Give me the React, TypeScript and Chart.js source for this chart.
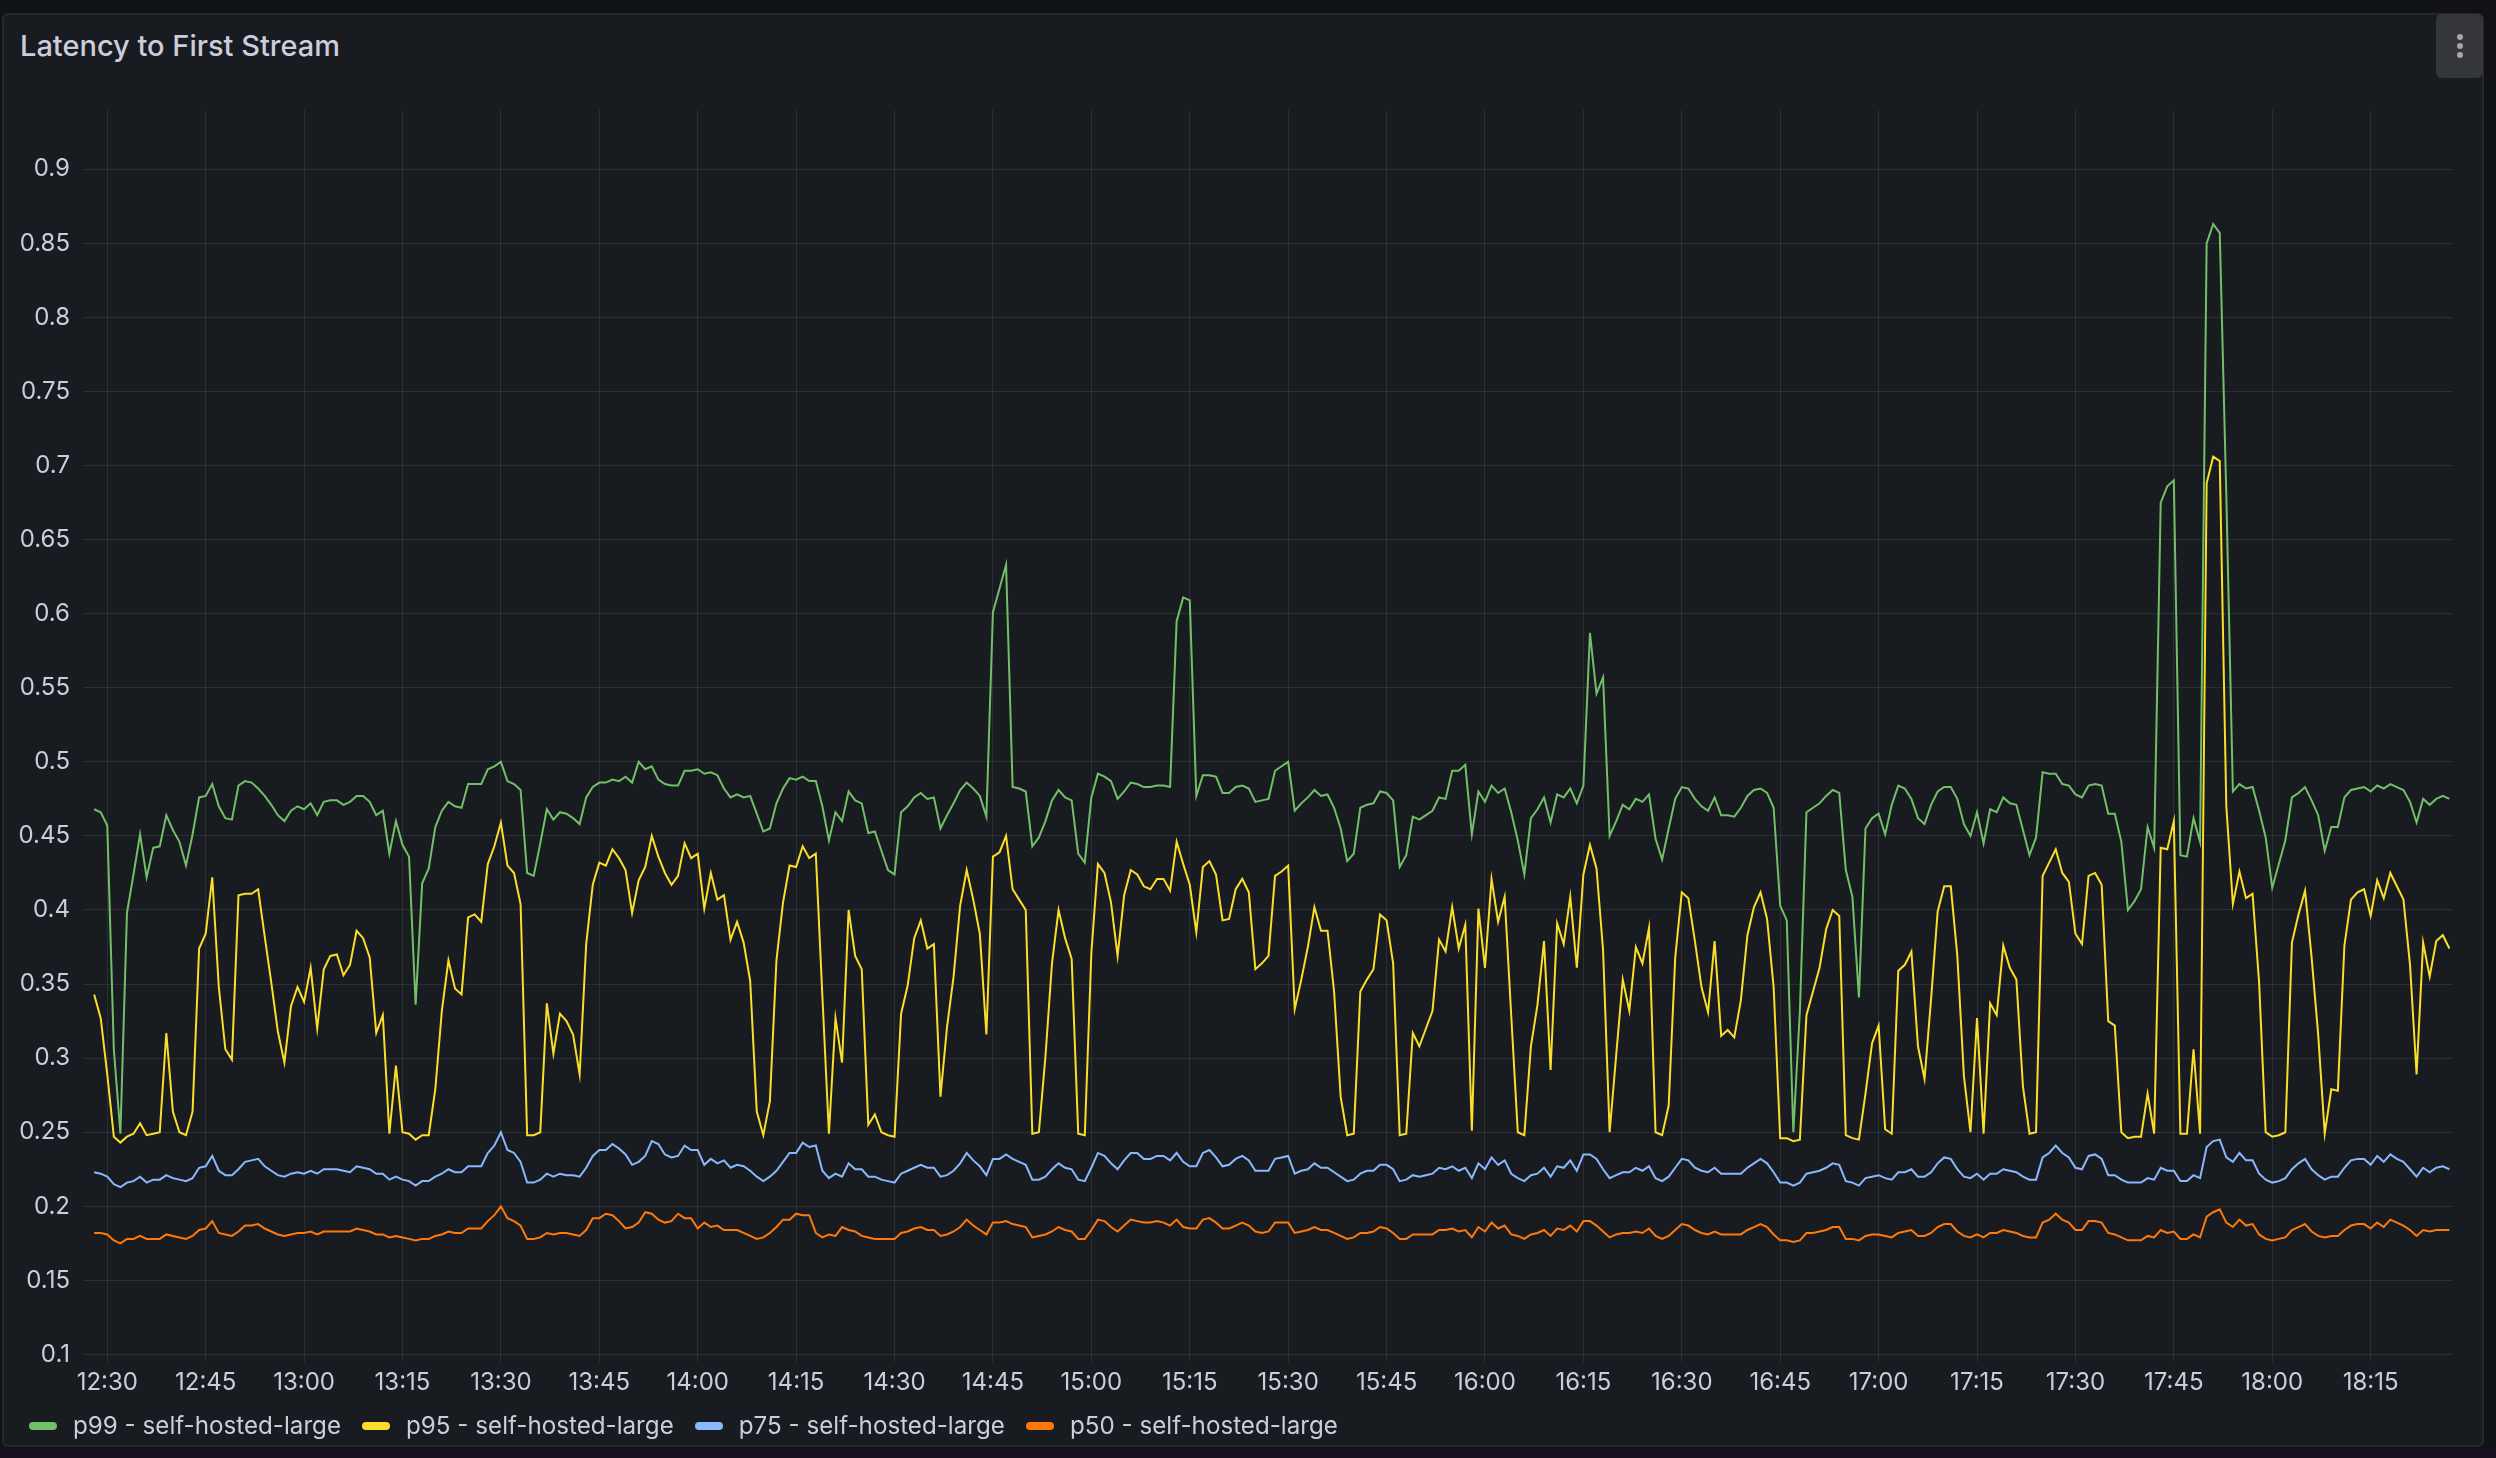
import React, { useEffect, useRef } from "react";
import { Chart, registerables } from "chart.js";

Chart.register(...registerables);

// first sample is 2 minutes before 12:30, one sample per minute
const START_MINUTE = -2;
const X_MIN = -3.7;
const X_MAX = 357.4;

const xTickMinutes = [0, 15, 30, 45, 60, 75, 90, 105, 120, 135, 150, 165, 180, 195, 210, 225, 240, 255, 270, 285, 300, 315, 330, 345];
const xTickLabels = ["12:30", "12:45", "13:00", "13:15", "13:30", "13:45", "14:00", "14:15", "14:30", "14:45", "15:00", "15:15", "15:30", "15:45", "16:00", "16:15", "16:30", "16:45", "17:00", "17:15", "17:30", "17:45", "18:00", "18:15"];

const yTickValues = [0.1, 0.15, 0.2, 0.25, 0.3, 0.35, 0.4, 0.45, 0.5, 0.55, 0.6, 0.65, 0.7, 0.75, 0.8, 0.85, 0.9];
const yTickLabels = ["0.1", "0.15", "0.2", "0.25", "0.3", "0.35", "0.4", "0.45", "0.5", "0.55", "0.6", "0.65", "0.7", "0.75", "0.8", "0.85", "0.9"];

const seriesNames = ["p99 - self-hosted-large", "p95 - self-hosted-large", "p75 - self-hosted-large", "p50 - self-hosted-large"];
const seriesColors = ["#73bf69", "#fade2a", "#8ab8ff", "#ff780a"];

const p99 = [
  0.468,0.466,0.457,0.306,0.249,0.398,0.424,0.451,0.422,0.442,
  0.443,0.464,0.454,0.446,0.430,0.451,0.476,0.477,0.485,0.470,
  0.462,0.461,0.484,0.487,0.486,0.482,0.477,0.471,0.464,0.460,
  0.467,0.470,0.468,0.472,0.464,0.473,0.474,0.474,0.471,0.473,
  0.477,0.477,0.473,0.464,0.467,0.438,0.460,0.444,0.436,0.336,
  0.418,0.428,0.456,0.467,0.473,0.470,0.469,0.485,0.485,0.485,
  0.495,0.497,0.500,0.487,0.485,0.481,0.425,0.423,0.445,0.468,
  0.461,0.466,0.465,0.462,0.458,0.476,0.483,0.486,0.486,0.488,
  0.487,0.490,0.486,0.500,0.495,0.497,0.488,0.485,0.484,0.484,
  0.494,0.494,0.495,0.492,0.493,0.491,0.482,0.476,0.478,0.476,
  0.477,0.465,0.453,0.455,0.472,0.482,0.489,0.488,0.490,0.487,
  0.487,0.470,0.447,0.466,0.460,0.480,0.474,0.472,0.452,0.453,
  0.440,0.427,0.424,0.466,0.470,0.476,0.479,0.475,0.476,0.455,
  0.464,0.472,0.481,0.486,0.482,0.477,0.463,0.601,0.617,0.633,
  0.483,0.482,0.480,0.443,0.449,0.460,0.474,0.481,0.476,0.474,
  0.438,0.432,0.476,0.492,0.490,0.487,0.475,0.480,0.486,0.485,
  0.483,0.483,0.484,0.484,0.483,0.595,0.611,0.609,0.477,0.491,
  0.491,0.490,0.479,0.479,0.483,0.484,0.482,0.473,0.474,0.475,
  0.494,0.497,0.500,0.467,0.472,0.476,0.481,0.477,0.478,0.469,
  0.455,0.433,0.438,0.469,0.471,0.472,0.480,0.479,0.474,0.429,
  0.437,0.463,0.461,0.464,0.467,0.476,0.475,0.494,0.494,0.498,
  0.451,0.480,0.473,0.484,0.479,0.482,0.466,0.447,0.424,0.462,
  0.468,0.476,0.459,0.478,0.476,0.482,0.472,0.484,0.587,0.546,
  0.557,0.450,0.460,0.471,0.468,0.475,0.473,0.478,0.448,0.434,
  0.455,0.475,0.483,0.482,0.475,0.470,0.467,0.476,0.464,0.464,
  0.463,0.469,0.477,0.481,0.482,0.479,0.469,0.403,0.393,0.250,
  0.332,0.466,0.469,0.472,0.477,0.481,0.479,0.427,0.409,0.341,
  0.455,0.462,0.465,0.451,0.471,0.484,0.482,0.475,0.462,0.458,
  0.471,0.480,0.483,0.483,0.475,0.458,0.450,0.466,0.445,0.468,
  0.466,0.476,0.472,0.471,0.454,0.437,0.449,0.493,0.492,0.492,
  0.485,0.484,0.478,0.476,0.484,0.485,0.484,0.465,0.465,0.446,
  0.400,0.406,0.414,0.456,0.442,0.675,0.686,0.690,0.437,0.436,
  0.462,0.446,0.850,0.863,0.857,0.680,0.480,0.485,0.482,0.483,
  0.467,0.449,0.415,0.431,0.447,0.476,0.479,0.483,0.474,0.464,
  0.440,0.456,0.456,0.476,0.481,0.482,0.483,0.480,0.484,0.482,
  0.485,0.483,0.481,0.473,0.459,0.475,0.471,0.475,0.477,0.475,
];

const p95 = [
  0.343,0.327,0.289,0.247,0.243,0.247,0.249,0.256,0.248,0.249,
  0.250,0.317,0.264,0.250,0.248,0.264,0.374,0.384,0.422,0.348,
  0.306,0.299,0.410,0.411,0.411,0.414,0.382,0.351,0.318,0.297,
  0.335,0.348,0.338,0.361,0.320,0.360,0.369,0.370,0.356,0.363,
  0.386,0.381,0.368,0.317,0.329,0.249,0.295,0.250,0.249,0.245,
  0.248,0.248,0.279,0.332,0.366,0.347,0.343,0.395,0.397,0.392,
  0.431,0.443,0.459,0.430,0.425,0.404,0.248,0.248,0.250,0.337,
  0.303,0.330,0.325,0.316,0.289,0.377,0.417,0.432,0.430,0.441,
  0.435,0.427,0.398,0.420,0.429,0.450,0.436,0.425,0.417,0.423,
  0.445,0.435,0.438,0.401,0.425,0.407,0.410,0.380,0.392,0.378,
  0.352,0.264,0.248,0.271,0.366,0.405,0.430,0.429,0.443,0.435,
  0.438,0.342,0.249,0.327,0.297,0.400,0.369,0.360,0.255,0.262,
  0.250,0.248,0.247,0.330,0.349,0.381,0.393,0.374,0.377,0.274,
  0.321,0.355,0.403,0.427,0.407,0.384,0.316,0.436,0.439,0.450,
  0.414,0.407,0.400,0.249,0.250,0.301,0.364,0.400,0.381,0.367,
  0.249,0.248,0.371,0.431,0.425,0.405,0.369,0.410,0.427,0.424,
  0.416,0.414,0.421,0.421,0.413,0.446,0.431,0.417,0.385,0.429,
  0.433,0.424,0.393,0.394,0.414,0.421,0.412,0.360,0.364,0.369,
  0.423,0.426,0.430,0.333,0.353,0.375,0.402,0.386,0.386,0.345,
  0.274,0.248,0.249,0.345,0.353,0.360,0.397,0.393,0.364,0.248,
  0.249,0.317,0.308,0.320,0.332,0.380,0.372,0.402,0.374,0.390,
  0.251,0.401,0.361,0.421,0.392,0.409,0.329,0.250,0.248,0.308,
  0.336,0.379,0.292,0.391,0.377,0.409,0.361,0.424,0.444,0.428,
  0.373,0.250,0.302,0.353,0.332,0.375,0.364,0.388,0.250,0.248,
  0.268,0.368,0.412,0.408,0.379,0.348,0.331,0.379,0.315,0.319,
  0.314,0.339,0.383,0.402,0.412,0.394,0.348,0.246,0.246,0.244,
  0.245,0.329,0.345,0.361,0.387,0.400,0.396,0.248,0.246,0.245,
  0.276,0.310,0.322,0.252,0.249,0.359,0.363,0.372,0.308,0.286,
  0.340,0.399,0.416,0.416,0.369,0.288,0.250,0.327,0.249,0.337,
  0.329,0.376,0.361,0.353,0.281,0.249,0.250,0.423,0.432,0.441,
  0.425,0.419,0.384,0.377,0.423,0.425,0.417,0.325,0.322,0.250,
  0.246,0.247,0.247,0.276,0.249,0.442,0.441,0.460,0.249,0.249,
  0.306,0.249,0.688,0.706,0.703,0.470,0.404,0.426,0.408,0.411,
  0.351,0.250,0.247,0.248,0.250,0.378,0.397,0.413,0.368,0.316,
  0.249,0.279,0.278,0.376,0.407,0.412,0.414,0.396,0.420,0.408,
  0.425,0.416,0.407,0.363,0.289,0.378,0.355,0.379,0.383,0.374,
];

const p75 = [
  0.223,0.222,0.220,0.215,0.213,0.216,0.217,0.220,0.216,0.218,
  0.218,0.221,0.219,0.218,0.217,0.219,0.226,0.227,0.234,0.224,
  0.221,0.221,0.225,0.230,0.231,0.232,0.227,0.224,0.221,0.220,
  0.222,0.223,0.222,0.224,0.222,0.225,0.225,0.225,0.224,0.223,
  0.227,0.226,0.225,0.222,0.222,0.218,0.220,0.218,0.217,0.214,
  0.217,0.217,0.220,0.222,0.225,0.223,0.223,0.227,0.227,0.227,
  0.236,0.241,0.250,0.238,0.236,0.230,0.216,0.216,0.218,0.222,
  0.220,0.222,0.221,0.221,0.220,0.226,0.234,0.238,0.238,0.242,
  0.239,0.235,0.228,0.230,0.234,0.244,0.242,0.235,0.233,0.234,
  0.241,0.238,0.238,0.228,0.232,0.229,0.231,0.226,0.228,0.227,
  0.224,0.220,0.217,0.220,0.224,0.230,0.236,0.236,0.243,0.240,
  0.241,0.224,0.219,0.222,0.220,0.229,0.225,0.225,0.220,0.220,
  0.218,0.217,0.216,0.222,0.224,0.226,0.228,0.226,0.226,0.220,
  0.221,0.224,0.229,0.236,0.231,0.227,0.221,0.232,0.232,0.235,
  0.232,0.230,0.228,0.218,0.218,0.220,0.225,0.229,0.226,0.225,
  0.218,0.217,0.226,0.236,0.234,0.229,0.225,0.231,0.236,0.236,
  0.232,0.232,0.234,0.234,0.231,0.236,0.230,0.227,0.227,0.236,
  0.238,0.233,0.227,0.228,0.232,0.234,0.231,0.224,0.224,0.224,
  0.232,0.233,0.234,0.222,0.224,0.225,0.229,0.226,0.226,0.223,
  0.220,0.217,0.218,0.222,0.224,0.224,0.228,0.228,0.225,0.217,
  0.218,0.221,0.220,0.221,0.222,0.226,0.225,0.227,0.224,0.226,
  0.219,0.229,0.225,0.233,0.228,0.231,0.222,0.219,0.217,0.221,
  0.222,0.226,0.220,0.227,0.226,0.231,0.224,0.235,0.235,0.232,
  0.225,0.219,0.221,0.223,0.223,0.226,0.224,0.227,0.219,0.217,
  0.220,0.226,0.232,0.231,0.226,0.224,0.223,0.226,0.222,0.222,
  0.222,0.222,0.226,0.229,0.232,0.229,0.223,0.216,0.216,0.214,
  0.216,0.222,0.223,0.224,0.226,0.229,0.228,0.217,0.216,0.214,
  0.219,0.220,0.221,0.219,0.218,0.223,0.223,0.225,0.220,0.220,
  0.223,0.229,0.233,0.232,0.225,0.220,0.219,0.222,0.218,0.222,
  0.222,0.225,0.224,0.223,0.220,0.218,0.218,0.233,0.236,0.241,
  0.236,0.233,0.226,0.225,0.234,0.235,0.232,0.221,0.221,0.218,
  0.216,0.216,0.216,0.219,0.218,0.226,0.224,0.224,0.217,0.217,
  0.221,0.219,0.240,0.244,0.245,0.233,0.230,0.236,0.231,0.231,
  0.222,0.218,0.216,0.217,0.219,0.225,0.229,0.232,0.225,0.221,
  0.218,0.220,0.220,0.226,0.231,0.232,0.232,0.228,0.234,0.230,
  0.235,0.232,0.230,0.225,0.220,0.226,0.223,0.226,0.227,0.225,
];

const p50 = [
  0.182,0.182,0.181,0.177,0.175,0.178,0.178,0.180,0.178,0.178,
  0.178,0.181,0.180,0.179,0.178,0.180,0.184,0.185,0.190,0.182,
  0.181,0.180,0.183,0.187,0.187,0.188,0.185,0.183,0.181,0.180,
  0.181,0.182,0.182,0.183,0.181,0.183,0.183,0.183,0.183,0.183,
  0.185,0.184,0.183,0.181,0.181,0.179,0.180,0.179,0.178,0.177,
  0.178,0.178,0.180,0.181,0.183,0.182,0.182,0.185,0.185,0.185,
  0.190,0.194,0.200,0.192,0.190,0.187,0.178,0.178,0.179,0.182,
  0.181,0.182,0.182,0.181,0.180,0.184,0.192,0.192,0.195,0.194,
  0.190,0.185,0.186,0.189,0.196,0.195,0.191,0.189,0.190,0.195,
  0.192,0.192,0.185,0.189,0.186,0.187,0.184,0.184,0.184,0.182,
  0.180,0.178,0.179,0.182,0.186,0.191,0.191,0.195,0.194,0.194,
  0.182,0.179,0.181,0.180,0.186,0.184,0.183,0.180,0.179,0.178,
  0.178,0.178,0.178,0.182,0.183,0.185,0.186,0.184,0.184,0.180,
  0.181,0.183,0.186,0.191,0.187,0.184,0.181,0.189,0.189,0.190,
  0.188,0.187,0.186,0.179,0.180,0.181,0.183,0.186,0.184,0.183,
  0.178,0.178,0.184,0.191,0.190,0.186,0.183,0.187,0.191,0.190,
  0.189,0.189,0.190,0.189,0.187,0.191,0.186,0.185,0.185,0.191,
  0.192,0.189,0.185,0.185,0.187,0.189,0.187,0.183,0.182,0.183,
  0.189,0.189,0.189,0.182,0.183,0.184,0.186,0.184,0.184,0.182,
  0.180,0.178,0.179,0.182,0.182,0.183,0.186,0.185,0.182,0.178,
  0.178,0.181,0.181,0.181,0.181,0.184,0.184,0.185,0.183,0.184,
  0.179,0.186,0.183,0.189,0.185,0.187,0.181,0.180,0.178,0.181,
  0.182,0.184,0.180,0.185,0.184,0.187,0.183,0.190,0.190,0.187,
  0.183,0.179,0.181,0.182,0.182,0.183,0.182,0.185,0.180,0.178,
  0.180,0.184,0.188,0.187,0.184,0.182,0.181,0.183,0.181,0.181,
  0.181,0.181,0.184,0.186,0.188,0.186,0.181,0.177,0.177,0.176,
  0.177,0.182,0.182,0.183,0.184,0.186,0.186,0.178,0.178,0.177,
  0.180,0.181,0.181,0.180,0.179,0.182,0.183,0.184,0.180,0.180,
  0.182,0.186,0.188,0.188,0.183,0.180,0.179,0.181,0.179,0.182,
  0.182,0.184,0.183,0.182,0.180,0.179,0.179,0.189,0.191,0.195,
  0.191,0.189,0.184,0.184,0.190,0.190,0.189,0.182,0.181,0.179,
  0.177,0.177,0.177,0.180,0.179,0.184,0.182,0.183,0.178,0.178,
  0.181,0.179,0.193,0.196,0.198,0.189,0.186,0.191,0.187,0.188,
  0.181,0.178,0.177,0.178,0.179,0.184,0.186,0.188,0.183,0.180,
  0.179,0.180,0.180,0.184,0.187,0.188,0.188,0.185,0.189,0.186,
  0.191,0.189,0.187,0.184,0.180,0.184,0.183,0.184,0.184,0.184,
];

const seriesValues = [p99, p95, p75, p50];

const TEXT = "#ccccdc";
const GRID = "rgba(204,204,220,0.11)";
const FONT = "Inter, 'Noto Sans', sans-serif";

export default function App() {
  const canvasRef = useRef<HTMLCanvasElement | null>(null);

  useEffect(() => {
    document.body.style.margin = "0";
    document.body.style.background = "#111217";
    const canvas = canvasRef.current;
    if (!canvas) return;

    const datasets = seriesValues.map((vals, si) => ({
      label: seriesNames[si],
      data: vals.map((v, i) => ({ x: START_MINUTE + i, y: v })),
      borderColor: seriesColors[si],
      backgroundColor: seriesColors[si],
      borderWidth: 2,
      pointRadius: 0,
      tension: 0,
      fill: false,
      order: 3 - si,
    }));

    const chart = new Chart(canvas, {
      type: "line",
      data: { datasets },
      options: {
        animation: false,
        responsive: false,
        events: [],
        layout: { padding: { left: 0, top: 110, right: 44, bottom: 56 } },
        plugins: {
          legend: { display: false },
          tooltip: { enabled: false },
          title: { display: false },
        },
        scales: {
          x: {
            type: "linear",
            min: X_MIN,
            max: X_MAX,
            afterBuildTicks: (scale: any) => {
              scale.ticks = xTickMinutes.map((v) => ({ value: v }));
            },
            afterFit: (scale: any) => {
              scale.height = 40;
            },
            grid: { color: GRID, lineWidth: 1, drawTicks: false },
            border: { display: false },
            ticks: {
              color: TEXT,
              font: { family: FONT, size: 24 },
              padding: 6,
              autoSkip: false,
              maxRotation: 0,
              minRotation: 0,
              callback: (_v: any, idx: number) => xTickLabels[idx],
            },
          },
          y: {
            type: "linear",
            min: 0.0949,
            max: 0.94,
            afterBuildTicks: (scale: any) => {
              scale.ticks = yTickValues.map((v) => ({ value: v }));
            },
            afterFit: (scale: any) => {
              scale.width = 83;
            },
            grid: { color: GRID, lineWidth: 1, drawTicks: false },
            border: { display: false },
            ticks: {
              color: TEXT,
              font: { family: FONT, size: 24 },
              padding: 13,
              autoSkip: false,
              callback: (_v: any, idx: number) => yTickLabels[idx],
            },
          },
        },
      },
    } as any);

    return () => chart.destroy();
  }, []);

  return (
    <div
      style={{
        position: "fixed",
        left: 0,
        top: 0,
        width: 2496,
        height: 1458,
        background: "#111217",
        overflow: "hidden",
        fontFamily: FONT,
      }}
    >
      <div style={{ position: "absolute", left: 0, top: 1448, width: 2496, height: 10, background: "#160f1d" }} />
      <div
        style={{
          position: "absolute",
          left: 2,
          top: 13,
          width: 2482,
          height: 1434,
          boxSizing: "border-box",
          background: "#181b1f",
          border: "2px solid #24272d",
          borderRadius: 6,
        }}
      />
      <div
        style={{
          position: "absolute",
          left: 20,
          top: 28,
          fontSize: 29,
          lineHeight: "35px",
          fontWeight: 500,
          color: TEXT,
          whiteSpace: "nowrap",
        }}
      >
        Latency to First Stream
      </div>
      <div
        style={{
          position: "absolute",
          left: 2436,
          top: 14,
          width: 47,
          height: 64,
          background: "#35363c",
          borderRadius: 6,
        }}
      >
        {[23, 32, 41].map((y) => (
          <div
            key={y}
            style={{
              position: "absolute",
              left: 21,
              top: y - 3,
              width: 6,
              height: 6,
              borderRadius: 3,
              background: "#a4a5ae",
            }}
          />
        ))}
      </div>
      <canvas
        ref={canvasRef}
        width={2496}
        height={1458}
        style={{ position: "absolute", left: 0, top: 0, width: 2496, height: 1458 }}
      />
      <div
        style={{
          position: "absolute",
          left: 29,
          top: 1411,
          height: 30,
          display: "flex",
          alignItems: "center",
          whiteSpace: "nowrap",
        }}
      >
        {seriesNames.map((name, i) => (
          <div key={name} style={{ display: "flex", alignItems: "center", marginRight: 21 }}>
            <div style={{ width: 28, height: 8, borderRadius: 4, background: seriesColors[i], marginRight: 16 }} />
            <span style={{ fontSize: 24.2, lineHeight: "30px", color: TEXT }}>{name}</span>
          </div>
        ))}
      </div>
    </div>
  );
}
